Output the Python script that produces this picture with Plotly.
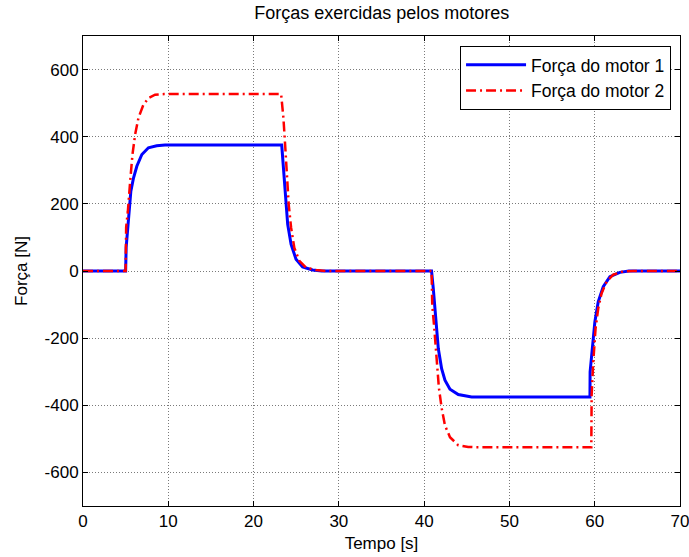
import plotly.graph_objects as go

# Time axis and force samples for each motor [s], [N]
t_motor1 = [0, 5.0, 5.06, 5.26, 5.41, 5.61, 5.92, 6.31, 6.9, 7.67, 8.64, 9.61,
            23.3, 23.5, 23.73, 24.0, 24.4, 24.98, 25.75, 26.92, 28.0,
            40.87, 41.07, 41.27, 41.46, 41.66, 42.05, 42.44, 43.03, 44.0, 45.57,
            59.44, 59.46, 59.75, 60.02, 60.41, 61.0, 61.78, 62.95, 64.0, 70.0]
f_motor1 = [0, 0, 70, 139, 188, 238, 277, 312, 347, 367, 373, 375,
            375, 307, 218, 139, 79, 35, 12, 3, 0,
            0, -52, -121, -171, -231, -291, -325, -352, -368, -375,
            -375, -300, -231, -151, -92, -47, -17, -4, 0, 0]

t_motor2 = [0, 5.0, 5.06, 5.26, 5.53, 5.8, 6.11, 6.5, 7.08, 7.67, 8.45, 9.5,
            23.23, 23.5, 23.7, 23.89, 24.12, 24.4, 24.78, 25.37, 26.15, 27.3, 28.5,
            40.87, 40.95, 41.19, 41.46, 41.73, 42.05, 42.44, 43.03, 44.0, 45.17, 46.0,
            59.6, 59.64, 59.83, 60.1, 60.41, 60.8, 61.39, 62.17, 63.34, 64.5, 70.0]
f_motor2 = [0, 0, 130, 178, 267, 347, 406, 456, 495, 515, 525, 527,
            527, 456, 376, 277, 198, 129, 69, 30, 10, 3, 0,
            0, -101, -171, -271, -348, -408, -460, -495, -519, -524, -525,
            -525, -370, -271, -171, -112, -67, -32, -11, -1, 0, 0]

x_ticks = [0, 10, 20, 30, 40, 50, 60, 70]
y_ticks = [-600, -400, -200, 0, 200, 400, 600]
y_tick_labels = ["-600", "-400", "-200", "0", "200", "400", "600"]

FONT = "Liberation Sans, Arial, sans-serif"

fig = go.Figure()
fig.add_trace(go.Scatter(
    x=t_motor1, y=f_motor1, mode="lines", name="Força do motor 1",
    line=dict(color="#0000ff", width=3)))
fig.add_trace(go.Scatter(
    x=t_motor2, y=f_motor2, mode="lines", name="Força do motor 2",
    line=dict(color="#ff0000", width=2.5, dash="10px,4px,2px,4px")))

axis_style = dict(
    showline=True, linecolor="black", linewidth=1, mirror="ticks",
    ticks="inside", ticklen=5, tickcolor="black",
    showgrid=True, gridcolor="#7a7a7a", griddash="1px,2px", gridwidth=1,
    zeroline=False, ticklabeloverflow="allow", automargin=False,
    tickfont=dict(family=FONT, size=17, color="black"),
)

fig.update_layout(
    width=689, height=557,
    margin=dict(l=83, r=9, t=36, b=51),
    paper_bgcolor="white", plot_bgcolor="white",
    title=dict(text="Forças exercidas pelos motores", x=0.554, xanchor="center",
               y=0.977, yanchor="middle",
               font=dict(family=FONT, size=18, color="black")),
    xaxis=dict(range=[0, 70], tickvals=x_ticks,
               title=dict(text="Tempo [s]", standoff=6,
                          font=dict(family=FONT, size=17, color="black")),
               **axis_style),
    yaxis=dict(range=[-700, 700], tickvals=y_ticks, ticktext=y_tick_labels,
               title=dict(text="Força [N]", standoff=12,
                          font=dict(family=FONT, size=17, color="black")),
               **axis_style),
    legend=dict(x=0.985, y=0.979, xanchor="right", yanchor="top",
                bgcolor="white", bordercolor="black", borderwidth=1,
                font=dict(family=FONT, size=17.5, color="black"),
                itemwidth=60, tracegroupgap=2),
    showlegend=True,
)

fig.write_html("out.html")
